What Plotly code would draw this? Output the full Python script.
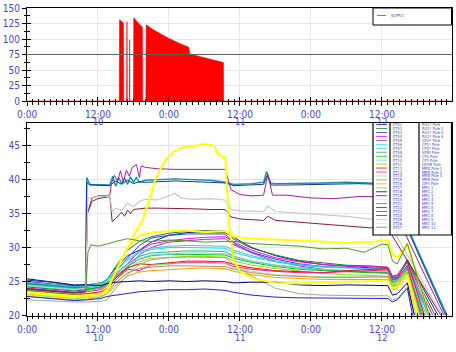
import plotly.graph_objects as go

# ---------------- data ----------------
TICK_H = [0, 12, 24, 36, 48, 60]
TICK_TEXT = ["0:00", "12:00", "0:00", "12:00", "0:00", "12:00"]
DAY_H = [12, 36, 60]
DAY_TEXT = ["10", "11", "12"]

# top chart: SUPPLY (hours since day 10 0:00)
supply_t = [0, 15.6, 15.65, 16.3, 16.35, 16.85, 16.9, 16.95, 17.3, 17.35, 17.4,
            18.0, 18.05, 19.5, 19.55, 20.1, 20.15, 21, 22, 23, 24, 25, 26, 27.3,
            27.4, 27.5, 29, 31, 33.2, 33.25, 71.8]
supply_v = [0, 0, 131, 126, 0, 0, 128, 0, 0, 98, 0,
            0, 134, 119, 0, 0, 123, 117, 111, 106, 101, 96, 92, 87,
            84, 76, 72, 67, 62, 0, 0]

# bottom chart: shared time grid for the lower bundle
T = [0, 4, 8, 10, 12.5, 13.5, 15, 17, 19, 21, 24, 27, 30, 33.5, 35, 38, 42, 46,
     50, 54, 58, 61, 61.8, 62.6, 64.3]

dkblue_lo = [25.0, 24.7, 24.3, 24.5, 24.8, 25.3, 27.0, 28.8, 29.6, 30.8, 31.8, 32.2, 32.3, 32.2, 31.5, 30.0, 28.8, 28.0, 27.5, 27.2, 27.0, 27.0, 25.6, 25.8, 28.2]
dkgreen = [24.6, 24.3, 24.0, 24.2, 24.6, 25.2, 27.2, 29.6, 30.9, 31.6, 32.1, 32.4, 32.5, 32.4, 31.2, 29.9, 28.9, 28.1, 27.7, 27.4, 27.3, 27.1, 25.7, 25.9, 28.0]
blue = [24.2, 23.9, 23.6, 23.8, 24.2, 24.8, 26.5, 28.5, 30.3, 31.4, 31.8, 32.0, 32.0, 32.0, 30.6, 29.3, 28.3, 27.6, 27.2, 27.0, 26.9, 26.8, 25.2, 25.4, 27.4]
magenta = [24.0, 23.7, 23.4, 23.6, 24.0, 24.5, 26.0, 27.6, 29.5, 30.5, 31.0, 31.3, 31.5, 31.6, 30.8, 29.6, 28.5, 27.9, 27.5, 27.3, 27.2, 27.1, 25.8, 26.0, 27.8]
violet = [23.8, 23.5, 23.3, 23.5, 23.8, 24.3, 25.6, 27.1, 28.9, 30.0, 30.8, 31.0, 31.2, 31.3, 30.4, 29.2, 28.0, 27.3, 26.8, 26.5, 26.4, 26.4, 25.3, 25.5, 27.0]
cyan = [24.8, 24.5, 24.2, 24.4, 24.7, 25.2, 26.6, 28.1, 29.2, 29.7, 30.0, 30.0, 30.0, 29.9, 29.3, 28.6, 27.9, 27.4, 27.1, 27.0, 26.9, 26.8, 25.5, 25.7, 27.7]
turquoise = [24.9, 24.6, 24.3, 24.5, 24.8, 25.3, 26.8, 28.3, 29.4, 29.9, 30.2, 30.3, 30.3, 30.2, 29.6, 28.8, 28.0, 27.5, 27.2, 27.0, 26.9, 26.9, 25.6, 25.8, 28.0]
seagreen = [24.5, 24.2, 23.9, 24.1, 24.4, 24.9, 26.2, 27.6, 28.7, 29.2, 29.4, 29.5, 29.5, 29.4, 28.7, 28.0, 27.4, 27.0, 26.7, 26.5, 26.4, 26.3, 25.0, 25.2, 27.0]
green = [24.3, 24.0, 23.7, 23.9, 24.2, 24.6, 25.8, 27.2, 28.3, 28.8, 29.0, 29.0, 29.0, 28.9, 28.4, 27.8, 27.2, 26.8, 26.6, 26.4, 26.3, 26.2, 24.8, 25.0, 26.8]
skyblue = [24.6, 24.3, 24.0, 24.2, 24.5, 25.0, 26.2, 27.4, 28.4, 28.9, 29.1, 29.2, 29.2, 29.1, 28.6, 28.0, 27.4, 27.0, 26.8, 26.6, 26.5, 26.5, 25.1, 25.3, 27.2]
lime = [24.0, 23.7, 23.4, 23.6, 23.9, 24.3, 25.5, 26.9, 27.9, 28.4, 28.6, 28.7, 28.7, 28.6, 28.0, 27.4, 26.9, 26.5, 26.2, 26.0, 25.9, 25.8, 24.5, 24.7, 26.5]
red = [23.6, 23.3, 23.0, 23.2, 23.5, 24.0, 25.5, 27.0, 27.6, 27.5, 27.8, 28.0, 28.0, 27.9, 27.5, 27.0, 26.6, 26.4, 26.3, 26.6, 26.8, 26.9, 25.5, 25.6, 28.0]
deeppink = [23.4, 23.1, 22.9, 23.0, 23.3, 23.8, 25.2, 26.8, 26.6, 27.4, 27.6, 27.8, 27.8, 27.7, 27.2, 26.8, 26.5, 26.3, 26.3, 26.4, 26.6, 26.7, 25.2, 25.4, 27.3]
lightgreen = [23.0, 22.7, 22.5, 22.6, 22.8, 23.2, 24.8, 26.2, 27.0, 27.4, 27.6, 27.7, 27.7, 27.6, 27.0, 26.5, 26.0, 25.8, 25.7, 25.7, 25.7, 25.6, 24.2, 24.4, 26.2]
tan = [23.2, 22.9, 22.6, 22.8, 23.0, 23.5, 24.8, 26.3, 26.9, 27.1, 27.3, 27.3, 27.3, 27.2, 26.8, 26.3, 25.9, 25.7, 25.6, 25.6, 25.7, 25.7, 24.3, 24.5, 26.3]
orange = [22.8, 22.5, 22.3, 22.4, 22.7, 23.2, 24.4, 25.8, 26.4, 26.6, 26.8, 26.9, 27.0, 26.9, 26.5, 26.0, 25.6, 25.4, 25.3, 25.3, 25.3, 25.3, 23.8, 24.0, 25.8]
graygreen = [22.3, 22.1, 22.0, 22.0, 22.1, 22.3, 24.0, 26.0, 27.5, 28.2, 28.5, 28.6, 28.6, 28.5, 27.5, 25.8, 24.0, 23.2, 23.0, 22.9, 22.9, 22.9, 22.3, 22.5, 24.2]
navy = [25.4, 25.0, 24.5, 24.5, 24.4, 24.7, 24.9, 25.0, 25.1, 25.0, 25.1, 25.0, 25.1, 25.0, 24.8, 24.9, 24.9, 24.5, 24.4, 24.5, 24.4, 24.4, 23.0, 23.2, 24.8]
royal = [22.8, 22.5, 22.2, 22.3, 22.5, 22.8, 23.0, 23.2, 23.5, 23.6, 23.8, 23.8, 23.9, 23.7, 23.4, 23.0, 22.7, 22.6, 22.6, 22.5, 22.6, 22.5, 22.0, 22.3, 24.0]
yellow_lo = [23.3, 23.0, 22.7, 22.9, 23.2, 23.8, 26.5, 30.0, 31.8, 32.2, 32.4, 32.5, 32.3, 32.4, 31.6, 31.3, 31.2, 31.0, 30.9, 30.7, 30.8, 31.1, 29.0, 28.5, 30.5]

LOWER_VALUES = [dkblue_lo, dkgreen, blue, magenta, violet, cyan, turquoise, seagreen, green,
                skyblue, lime, red, deeppink, lightgreen, tan, orange, graygreen, navy, royal,
                yellow_lo]
LOWER_COLORS = ["#1a1a9a", "#1f7a1f", "#1e40ff", "#ff00ff", "#9b30d0", "#00e5ee", "#40c8c0",
                "#2fae6f", "#00c800", "#7ec8f0", "#86e000", "#ff0000", "#ff1493", "#90ee90",
                "#c08a50", "#ff9900", "#8fb08f", "#000080", "#2222cc", "#ffff00"]
LOWER_END_T = [69.5, 69.0, 68.2, 68.6, 68.0, 67.5, 67.8, 67.0, 66.8, 67.2, 66.5, 67.2, 66.6,
               66.3, 66.0, 65.8, 65.5, 65.5, 65.2, 68.0]

# upper lines, own time stamps
teal_t = [0, 4, 8, 9.9, 10.1, 10.6, 12, 14, 14.5, 15, 15.5, 16, 16.5, 17, 17.5, 18, 18.5, 19, 20, 22, 25, 28, 31, 33.5, 35, 38, 40, 40.5, 41.2, 42, 46, 50, 54, 58, 61, 71]
teal_v = [24.7, 24.4, 24.1, 24.2, 40.3, 39.3, 39.3, 39.2, 40.5, 39.0, 40.3, 39.4, 40.2, 39.3, 40.4, 39.6, 40.3, 39.6, 39.9, 40.0, 40.1, 40.0, 39.9, 39.6, 39.3, 39.4, 39.6, 41.2, 39.5, 39.4, 39.4, 39.5, 39.6, 39.5, 39.4, 20]
bluehi_t = [0, 4, 8, 9.9, 10.1, 10.6, 14, 15, 16, 17, 18, 19, 20, 22, 25, 28, 31, 33.5, 35, 38, 40, 40.6, 41.3, 44, 48, 52, 56, 60, 61, 70.8]
bluehi_v = [25.2, 24.9, 24.4, 24.6, 39.6, 39.2, 39.1, 39.8, 39.3, 39.9, 39.4, 39.7, 39.6, 39.7, 39.8, 39.7, 39.6, 39.5, 39.1, 39.2, 39.3, 40.6, 39.2, 39.2, 39.3, 39.3, 39.4, 39.3, 39.2, 20]
purple_t = [0, 4, 8, 9.9, 10.2, 11, 12, 14, 14.3, 14.8, 15.3, 15.8, 16.3, 16.8, 17.3, 17.8, 18.5, 19.0, 19.3, 20, 22, 25, 28, 31, 33.5, 34.5, 36, 38, 40, 40.7, 41.5, 44, 48, 52, 56, 60, 61, 70.5]
purple_v = [24.0, 23.7, 23.4, 23.6, 35.0, 37.3, 37.6, 37.7, 39.5, 40.6, 39.8, 41.3, 39.6, 41.4, 40.5, 41.8, 42.2, 40.3, 42.0, 41.8, 41.6, 41.5, 41.5, 41.4, 41.5, 38.5, 37.8, 37.6, 37.7, 40.8, 37.7, 37.7, 37.3, 37.2, 37.5, 37.5, 37.4, 20]
maroon_t = [0, 4, 8, 9.9, 10.2, 11, 12, 14, 14.4, 15, 16, 16.5, 17, 17.5, 18, 19, 20, 22, 25, 28, 31, 33.5, 34.5, 36, 40, 40.7, 42, 46, 50, 54, 58, 61, 70]
maroon_v = [23.9, 23.6, 23.3, 23.5, 35.0, 36.8, 37.2, 37.5, 33.8, 34.3, 35.2, 34.6, 35.5, 35.0, 35.6, 35.7, 35.8, 35.8, 35.8, 35.7, 35.6, 35.6, 34.5, 34.2, 34.0, 34.6, 34.0, 33.7, 33.4, 33.2, 32.9, 32.8, 20]
gray_t = [0, 4, 8, 9.9, 10.3, 12, 14, 14.4, 15, 16, 17, 18, 19, 20, 22, 24, 25, 26, 28, 31, 33.5, 34.5, 36, 40, 40.7, 42, 46, 50, 54, 58, 61, 70.2]
gray_v = [24.4, 24.1, 23.8, 24.0, 37.3, 37.5, 37.6, 35.2, 35.8, 35.5, 36.5, 36.0, 36.8, 37.1, 37.0, 37.6, 38.0, 37.3, 37.1, 37.2, 37.0, 35.6, 35.4, 35.3, 36.1, 35.3, 35.1, 34.9, 34.6, 34.2, 33.9, 20]
yellowhi_t = [0, 4, 8, 12, 13.5, 15, 17, 18.5, 19.5, 20.5, 21.5, 22.5, 23.5, 24.7, 26, 28, 30, 31.6, 32.2, 33, 33.5, 34.2, 35, 36, 38, 42, 46, 50, 54, 58, 61, 61.8, 62.6, 64.3, 66]
yellowhi_v = [23.5, 23.2, 22.9, 23.0, 23.5, 26.5, 30.0, 32.5, 34.0, 36.5, 39.5, 41.5, 43.0, 44.0, 44.7, 45.0, 45.2, 45.0, 43.8, 43.4, 43.3, 33.0, 28.0, 26.5, 25.5, 24.8, 24.7, 24.9, 25.0, 25.0, 25.1, 24.0, 24.2, 26.0, 20]
olive_t = [0, 4, 8, 9.9, 10.3, 10.8, 12, 13.5, 15, 17, 19, 21, 24, 27, 30, 33.5, 35, 38, 42, 46, 50, 54, 57, 60, 61, 61.8, 62.6, 64.3, 68]
olive_v = [23.7, 23.4, 23.1, 23.3, 29.3, 30.4, 30.2, 30.5, 30.9, 31.3, 31.0, 30.9, 31.1, 31.0, 30.8, 30.9, 30.9, 30.6, 30.4, 30.2, 29.8, 29.9, 29.3, 30.5, 30.4, 28.0, 27.6, 30.6, 20]

UPPER_T = [teal_t, bluehi_t, purple_t, maroon_t, gray_t, yellowhi_t, olive_t]
UPPER_V = [teal_v, bluehi_v, purple_v, maroon_v, gray_v, yellowhi_v, olive_v]
UPPER_COLORS = ["#0a9a9a", "#1c2fa0", "#a020a8", "#8b1a3a", "#c8c8c8", "#ffff00", "#4c9a1a"]
UPPER_WIDTHS = [1.4, 1.0, 1.0, 1.0, 1.2, 2.0, 1.0]

LEG_COL1 = ["ET%02d" % i for i in range(1, 29)]
LEG_COL2 = ["RG1* Pole", "RG2* Pole 1", "RG1* Pole S", "RG2* Pole S", "GFH* Pole", "CP1* Pole",
            "CP2* Pole", "SEMI Pole", "CP2 Pole", "CP1 Pole", "GFHB Pole", "MRB Pole 1",
            "MRB Pole 2", "MRB Pole 3", "MRB Pole", "GFH Pole", "MRC 1", "MRC 2", "MRC 3",
            "MRC 4", "MRC 5", "MRC 6", "MRC 7", "MRC 8", "MRC 9", "MRC 10", "MRC 11", "MRC 12"]

# ---------------- figure ----------------
W, H = 456, 352
def px(x): return x / W
def py(y): return 1 - y / H

XD = [px(27), px(452)]
XR = [0, 71.85]
FONT = "Liberation Sans Narrow, DejaVu Sans Condensed, Arial Narrow, sans-serif"
BLUE_TXT = "#4646d2"
tickfont = dict(family=FONT, size=10, color=BLUE_TXT)

fig = go.Figure()
fig.add_trace(go.Scatter(x=supply_t, y=supply_v, mode="lines", fill="tozeroy",
                         line=dict(color="#ff0000", width=0.6), fillcolor="#ff0000",
                         xaxis="x", yaxis="y", showlegend=False))

for vals, col, tend in zip(LOWER_VALUES, LOWER_COLORS, LOWER_END_T):
    w = 2.0 if col == "#ffff00" else 1.0
    fig.add_trace(go.Scatter(x=T + [tend], y=vals + [20], mode="lines",
                             line=dict(color=col, width=w), xaxis="x2", yaxis="y2",
                             showlegend=False))
for tt, vv, col, w in zip(UPPER_T, UPPER_V, UPPER_COLORS, UPPER_WIDTHS):
    fig.add_trace(go.Scatter(x=tt, y=vv, mode="lines", line=dict(color=col, width=w),
                             xaxis="x2", yaxis="y2", showlegend=False))

# empty traces so the overlay (inside-tick) axes get drawn
fig.add_trace(go.Scatter(x=[None], y=[None], xaxis="x3", yaxis="y3", showlegend=False,
                         hoverinfo="skip"))
fig.add_trace(go.Scatter(x=[None], y=[None], xaxis="x4", yaxis="y4", showlegend=False,
                         hoverinfo="skip"))

def xaxis(anchor):
    return dict(domain=XD, range=XR, anchor=anchor, tickmode="array", tickvals=TICK_H,
                ticktext=TICK_TEXT, ticks="outside", ticklen=4, tickcolor="black",
                showline=True, linecolor="black", linewidth=1, mirror=True,
                showgrid=True, gridcolor="#e6e6e6", zeroline=False, tickfont=tickfont,
                automargin=False,
                minor=dict(tickmode="linear", tick0=0, dtick=1, ticks="outside",
                           ticklen=2.5, tickcolor="black", showgrid=False))

def xin(over, anchor):
    return dict(range=XR, overlaying=over, anchor=anchor, tickmode="linear", tick0=0,
                dtick=12, ticks="inside", ticklen=4, tickcolor="black",
                showticklabels=False, showgrid=False, showline=False, zeroline=False,
                automargin=False,
                minor=dict(tickmode="linear", tick0=0, dtick=1, ticks="inside",
                           ticklen=2.5, tickcolor="black"))

def yaxis(dom, rng, dt, anchor):
    return dict(domain=dom, range=rng, anchor=anchor, tickmode="linear", tick0=0, dtick=dt,
                ticks="outside", ticklen=4, tickcolor="black", showline=True,
                linecolor="black", linewidth=1, mirror=True, showgrid=True,
                gridcolor="#e6e6e6", zeroline=False, tickfont=tickfont, automargin=False,
                minor=dict(tickmode="linear", tick0=0, dtick=dt / 2, ticks="outside",
                           ticklen=2.5, tickcolor="black", showgrid=False))

def yin(over, rng, dt, anchor):
    return dict(range=rng, overlaying=over, anchor=anchor, tickmode="linear", tick0=0,
                dtick=dt, ticks="inside", ticklen=4, tickcolor="black",
                showticklabels=False, showgrid=False, showline=False, zeroline=False,
                automargin=False,
                minor=dict(tickmode="linear", tick0=0, dtick=dt / 2, ticks="inside",
                           ticklen=2.5, tickcolor="black"))

TOP_R = [0, 150]
BOT_R = [20, 48.4]
fig.update_layout(
    width=W, height=H, margin=dict(l=0, r=0, t=0, b=0, autoexpand=False),
    paper_bgcolor="white", plot_bgcolor="white", showlegend=False,
    xaxis=xaxis("y"), yaxis=yaxis([py(101), py(8)], TOP_R, 25, "x"),
    xaxis2=xaxis("y2"), yaxis2=yaxis([py(315.5), py(122.5)], BOT_R, 5, "x2"),
    xaxis3=xin("x", "y3"), yaxis3=yin("y", TOP_R, 25, "x3"),
    xaxis4=xin("x2", "y4"), yaxis4=yin("y2", BOT_R, 5, "x4"),
)

shapes = []
# dark mid line in top chart
shapes.append(dict(type="line", xref="x", yref="y", x0=XR[0], x1=XR[1], y0=75, y1=75,
                   line=dict(color="#606060", width=1)))
# top legend
shapes.append(dict(type="rect", xref="paper", yref="paper", x0=px(373), x1=px(451.5),
                   y0=py(25), y1=py(8), fillcolor="white", line=dict(color="black", width=1),
                   layer="above"))
shapes.append(dict(type="line", xref="paper", yref="paper", x0=px(377), x1=px(386),
                   y0=py(15.5), y1=py(15.5), line=dict(color="#ff4080", width=1), layer="above"))
# bottom legend
shapes.append(dict(type="rect", xref="paper", yref="paper", x0=px(373), x1=px(451.5),
                   y0=py(235), y1=py(122.5), fillcolor="white",
                   line=dict(color="black", width=1.2), layer="above"))
for xv in (390, 419):
    shapes.append(dict(type="line", xref="paper", yref="paper", x0=px(xv), x1=px(xv),
                       y0=py(235), y1=py(122.5), line=dict(color="black", width=1.2),
                       layer="above"))

ann = [dict(xref="paper", yref="paper", x=px(389), y=py(15.5), text="SUPPLY",
            showarrow=False, xanchor="left", yanchor="middle",
            font=dict(family=FONT, size=4, color=BLUE_TXT))]

# day labels under the 12:00 ticks
for dh, dt in zip(DAY_H, DAY_TEXT):
    for xr, yc in (("x", 122.0), ("x2", 337.5)):
        ann.append(dict(xref=xr, yref="paper", x=dh, y=py(yc), text=dt, showarrow=False,
                        xanchor="center", yanchor="middle", borderpad=0,
                        font=dict(family=FONT, size=9, color=BLUE_TXT)))

leg_colors = (LOWER_COLORS + UPPER_COLORS)[:len(LEG_COL1)]
for i, (n1, n2, c) in enumerate(zip(LEG_COL1, LEG_COL2, leg_colors)):
    yy = 124.6 + i * 3.95
    shapes.append(dict(type="line", xref="paper", yref="paper", x0=px(376), x1=px(387),
                       y0=py(yy), y1=py(yy), line=dict(color=c, width=0.8), layer="above"))
    ann.append(dict(xref="paper", yref="paper", x=px(391.5), y=py(yy), text=n1,
                    showarrow=False, xanchor="left", yanchor="middle", borderpad=0,
                    font=dict(family=FONT, size=4, color=BLUE_TXT)))
    ann.append(dict(xref="paper", yref="paper", x=px(420.5), y=py(yy), text=n2,
                    showarrow=False, xanchor="left", yanchor="middle", borderpad=0,
                    font=dict(family=FONT, size=4, color=BLUE_TXT)))

fig.update_layout(shapes=shapes, annotations=ann)
fig.write_html("out.html")
